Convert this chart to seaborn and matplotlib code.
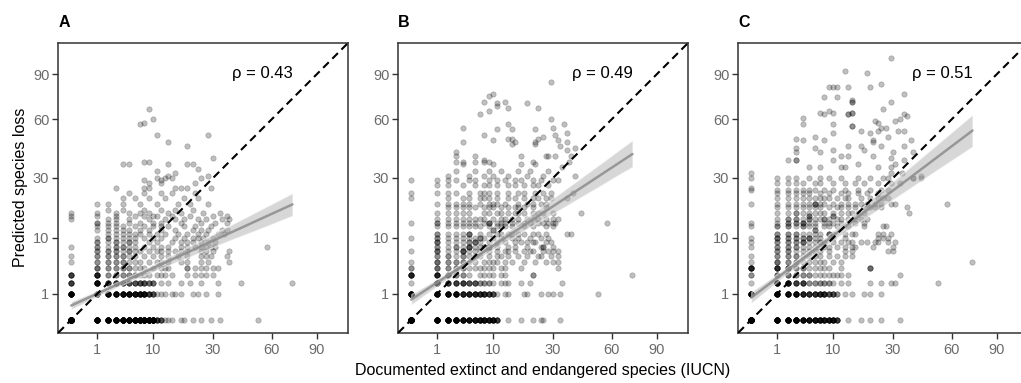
import numpy as np
import pandas as pd
import seaborn as sns
import matplotlib.pyplot as plt
from matplotlib.collections import PolyCollection

panel_labels = ["A", "B", "C"]
rho_values = [0.43, 0.49, 0.51]
tick_values = [1, 10, 30, 60, 90]

# Predicted species loss -> documented extinct/endangered counts (one entry per site)
loss_a = {
    0: [0, 0, 0, 0, 1, 1, 1, 1, 1, 2, 2, 2, 2, 2, 3, 3, 3, 3, 3, 4, 4, 4, 4, 4, 5, 5, 5, 5, 5,
        6, 6, 6, 6, 7, 7, 7, 7, 8, 8, 8, 8, 9, 9, 9, 9, 10, 10, 10, 11, 11, 12, 13, 14, 15,
        18, 19, 22, 25, 29, 33, 52],
    1: [0, 0, 0, 0, 1, 1, 1, 1, 1, 2, 2, 2, 2, 3, 3, 3, 3, 4, 4, 4, 4, 5, 5, 5, 5, 6, 6, 6,
        7, 7, 7, 8, 8, 8, 9, 9, 9, 10, 10, 11, 12, 13, 15, 16, 18, 22, 24, 27, 32],
    2: [0, 0, 1, 1, 1, 1, 2, 2, 2, 3, 3, 3, 4, 4, 5, 5, 6, 6, 7, 7, 8, 8, 9, 10, 12, 14, 18,
        21, 25, 32, 43, 73],
    3: [0, 0, 1, 1, 1, 2, 2, 3, 3, 4, 4, 5, 5, 6, 6, 7, 8, 9, 11, 12, 13, 15, 20, 23, 25, 27, 30],
    4: [1, 1, 1, 2, 2, 3, 3, 4, 4, 5, 5, 6, 7, 8, 10, 12, 13, 14, 20, 20, 23, 25, 27, 30, 32],
    5: [0, 1, 1, 2, 2, 3, 3, 4, 4, 5, 6, 7, 9, 11, 12, 14, 18, 20, 25, 28, 37],
    6: [0, 1, 1, 2, 2, 3, 3, 4, 4, 5, 6, 8, 10, 12, 14, 17, 20, 25, 27, 29, 36],
    7: [1, 1, 2, 2, 3, 3, 4, 5, 5, 6, 7, 9, 11, 12, 14, 16, 18, 20, 25, 27, 30, 37],
    8: [0, 1, 1, 2, 3, 3, 4, 4, 5, 6, 8, 10, 12, 14, 18, 20, 23, 25, 27, 29, 31, 57],
    9: [1, 1, 2, 3, 3, 4, 5, 5, 6, 9, 11, 15, 18, 20, 22, 25, 28, 31],
    10: [1, 2, 2, 3, 4, 5, 6, 8, 10, 12, 16, 19, 22, 24, 26, 30],
    11: [2, 3, 4, 5, 6, 7, 9, 11, 13, 17, 20, 24, 27, 32, 35],
    12: [1, 2, 3, 4, 5, 7, 9, 12, 16, 22, 25, 28, 34, 36],
    13: [1, 2, 3, 4, 6, 8, 10, 12, 14, 19, 23, 29],
    14: [1, 1, 2, 3, 5, 7, 10, 12, 18, 25, 31, 36],
    15: [0, 2, 3, 5, 9, 13, 16, 19, 24, 27, 34, 37],
    16: [0, 1, 3, 6, 8, 10, 11, 15, 21, 30, 36],
    17: [0, 1, 3, 5, 7, 9, 14, 18, 26, 33],
    18: [2, 4, 8, 12, 16, 22],
    20: [1, 2, 4, 7, 11, 17, 21, 28],
    22: [4, 6, 9, 13, 19, 24],
    24: [5, 8, 12, 15, 23],
    26: [3, 8, 9, 16, 18, 20, 29],
    28: [9, 12, 23],
    29: [8, 12],
    30: [11, 13, 15, 25],
    31: [14, 28],
    32: [16],
    33: [11],
    34: [24],
    36: [4, 5, 14, 20, 22],
    37: [8, 9],
    39: [30],
    45: [20],
    47: [14],
    51: [11, 28],
    57: [7],
    58: [8],
    60: [10],
    66: [9],
}

loss_b = {
    0: [0, 0, 0, 0, 1, 1, 1, 1, 1, 2, 2, 2, 2, 2, 3, 3, 3, 3, 3, 4, 4, 4, 4, 4, 5, 5, 5, 5,
        6, 6, 6, 6, 7, 7, 7, 7, 8, 8, 8, 8, 9, 9, 9, 10, 10, 10, 11, 11, 14, 18, 22, 25, 26, 33],
    1: [0, 0, 0, 0, 1, 1, 1, 1, 1, 2, 2, 2, 2, 3, 3, 3, 3, 4, 4, 4, 4, 5, 5, 5, 5, 6, 6, 6, 6,
        7, 7, 7, 8, 8, 8, 9, 9, 9, 10, 10, 11, 13, 14, 19, 20, 25, 28, 30, 33, 52],
    2: [0, 1, 1, 1, 1, 2, 2, 2, 3, 3, 3, 4, 4, 4, 5, 5, 6, 6, 7, 7, 8, 8, 9, 9, 10, 12, 13,
        14, 18, 21, 34],
    3: [0, 0, 0, 1, 1, 1, 2, 2, 2, 3, 3, 4, 4, 5, 7, 8, 9, 10, 12, 13, 22, 22, 73],
    4: [0, 0, 1, 1, 1, 2, 2, 3, 3, 4, 4, 5, 6, 7, 8, 9, 10, 12, 13, 18, 32],
    5: [0, 1, 1, 1, 2, 2, 3, 3, 4, 4, 5, 6, 8, 9, 10, 11, 13, 15, 19, 23, 27, 30, 32],
    6: [1, 1, 2, 2, 3, 4, 4, 5, 6, 7, 9, 11, 12, 14, 17, 20, 24, 25, 29, 32],
    7: [0, 1, 1, 1, 2, 3, 4, 4, 5, 6, 7, 9, 11, 13, 14, 16, 19, 21, 22, 26, 28, 30, 32],
    8: [1, 1, 2, 3, 3, 4, 5, 5, 6, 7, 9, 9, 11, 14, 16, 20, 25, 26, 26, 30],
    9: [1, 1, 1, 2, 3, 4, 5, 5, 6, 7, 9, 11, 13, 16, 18, 20, 22, 23, 27, 29],
    10: [0, 1, 1, 2, 3, 4, 5, 6, 8, 10, 12, 15, 17, 21, 25, 28],
    11: [1, 1, 2, 3, 4, 5, 7, 9, 11, 12, 14, 15, 17, 19, 22, 24, 27, 36, 38],
    13: [1, 2, 3, 4, 5, 6, 7, 9, 11, 12, 13, 15, 19, 22, 27, 30],
    14: [0, 1, 1, 2, 3, 4, 5, 6, 8, 9, 11, 12, 13, 15, 17, 19, 21, 24, 26, 28, 30, 31, 57],
    15: [1, 2, 3, 4, 5, 6, 7, 8, 10, 12, 13, 15, 17, 20, 22, 24, 27, 30, 32],
    17: [1, 2, 3, 4, 5, 8, 9, 11, 12, 14, 16, 17, 19, 22, 24, 26, 30, 43],
    19: [2, 3, 4, 5, 6, 8, 9, 10, 12, 14, 16, 17, 19, 22, 27],
    20: [1, 2, 3, 4, 5, 7, 9, 10, 11, 13, 17, 20, 22, 25, 27],
    22: [0, 2, 4, 5, 7, 8, 9, 11, 14, 16, 19, 22, 24, 27, 29, 36],
    24: [0, 1, 2, 3, 5, 7, 8, 9, 11, 14, 17, 19, 23, 26, 29, 39],
    27: [1, 2, 4, 6, 8, 9, 11, 14, 16, 19, 22, 24, 28],
    29: [0, 1, 2, 3, 5, 6, 9, 11, 13, 16, 18, 22, 25, 30, 32],
    31: [2, 5, 8, 10, 14, 20, 26, 40],
    33: [3, 6, 9, 12, 17, 21, 28],
    35: [34],
    36: [4, 10, 18, 23],
    37: [3, 4, 6, 8, 9, 22, 37],
    38: [8],
    40: [3, 6, 18, 27, 28, 31, 38],
    42: [3],
    43: [36],
    44: [40],
    45: [33],
    46: [15, 23],
    47: [4, 16, 23, 36],
    48: [10, 32],
    49: [14, 15, 24],
    50: [26],
    51: [8, 31],
    52: [36],
    54: [11, 15, 23],
    55: [4, 30],
    57: [14, 35],
    60: [29],
    63: [7],
    65: [9],
    67: [14, 24],
    68: [11],
    70: [11, 20],
    71: [8, 13],
    75: [9],
    76: [10],
    84: [29],
}

loss_c = {
    0: [0, 0, 0, 0, 1, 1, 1, 1, 1, 2, 2, 2, 2, 2, 3, 3, 3, 3, 3, 4, 4, 4, 4, 4, 5, 5, 5, 5,
        6, 6, 6, 6, 7, 7, 7, 7, 8, 8, 8, 9, 9, 9, 10, 10, 10, 11, 11, 14, 18, 21, 25, 33],
    1: [0, 0, 0, 0, 1, 1, 1, 1, 1, 2, 2, 2, 2, 3, 3, 3, 3, 4, 4, 4, 4, 5, 5, 5, 6, 6, 6,
        7, 7, 7, 8, 8, 8, 9, 9, 10, 10, 11, 11, 13, 15, 19, 21, 25],
    2: [0, 1, 1, 1, 1, 2, 2, 2, 2, 3, 3, 3, 4, 4, 4, 5, 5, 6, 6, 7, 7, 8, 8, 9, 9, 10, 12,
        14, 21, 25, 29, 31, 52],
    3: [0, 0, 1, 1, 1, 2, 2, 2, 3, 3, 4, 4, 5, 5, 6, 7, 8, 9, 10, 11, 12, 14, 33],
    4: [0, 0, 0, 1, 1, 1, 2, 2, 2, 3, 3, 4, 4, 5, 6, 7, 8, 9, 12, 21, 21, 21],
    5: [0, 1, 1, 1, 2, 2, 3, 3, 4, 5, 6, 7, 8, 10, 12, 73],
    6: [0, 1, 1, 2, 2, 3, 3, 4, 5, 6, 7, 9, 11, 13, 15],
    7: [1, 1, 2, 2, 3, 4, 5, 6, 7, 9, 13, 15, 28, 30],
    8: [0, 1, 1, 2, 2, 3, 3, 4, 5, 6, 8, 9, 11, 13, 15, 16, 22, 30],
    9: [0, 1, 1, 2, 2, 3, 3, 4, 5, 6, 8, 10, 12, 14, 15, 18, 20, 23, 24, 28, 31],
    10: [0, 1, 1, 1, 2, 2, 3, 3, 4, 4, 5, 6, 7, 10, 13, 24, 26, 28],
    11: [1, 1, 2, 2, 3, 3, 4, 5, 6, 7, 9, 10, 13, 15, 16, 24, 26, 29],
    13: [0, 1, 1, 2, 2, 3, 4, 4, 5, 6, 8, 9, 11, 14, 19, 26, 27],
    14: [0, 1, 2, 2, 3, 3, 4, 5, 6, 8, 9, 10, 12, 16, 19],
    15: [1, 2, 2, 3, 3, 4, 5, 5, 6, 7, 9, 11, 12, 14, 16, 18, 20],
    17: [1, 2, 3, 3, 4, 5, 6, 7, 8, 10, 12, 14, 15, 17, 19, 37],
    19: [1, 2, 3, 4, 5, 6, 7, 9, 11, 12, 14, 16, 19, 21, 23, 25, 36],
    20: [0, 1, 2, 3, 4, 5, 6, 7, 8, 10, 12, 14, 16, 18, 20, 23, 25, 29, 31, 57],
    22: [1, 2, 3, 4, 5, 6, 7, 8, 9, 11, 13, 14, 18, 21, 24, 26, 28],
    24: [1, 2, 3, 4, 5, 7, 9, 12, 14, 17, 20, 24],
    25: [0, 1, 2, 3, 4, 5, 6, 8, 10, 13, 17, 21, 25, 28],
    26: [0],
    28: [1, 2, 3, 4, 6, 7, 10, 13, 16, 19, 24, 29, 33],
    30: [0, 1, 2, 3, 5, 7, 9, 12, 17, 21, 26, 28, 39, 39, 43],
    31: [43],
    32: [0, 29, 34],
    35: [5, 7, 12, 13, 24, 29],
    36: [17, 31],
    38: [2, 3, 3, 10, 35],
    39: [29],
    40: [12, 14, 22],
    42: [3, 7, 30, 39],
    43: [10, 19],
    44: [3, 6],
    45: [14, 18, 25, 35],
    47: [22],
    48: [4, 8, 22, 38],
    49: [3],
    50: [6, 28],
    52: [10, 21],
    53: [18, 24, 32, 35],
    55: [25, 27],
    56: [15, 15],
    57: [4, 10],
    58: [24],
    59: [23, 31],
    60: [33],
    61: [4],
    62: [36],
    63: [8, 14, 14, 35],
    64: [7, 10, 15, 15],
    65: [9],
    66: [26],
    71: [15, 15, 29],
    72: [15],
    74: [8, 11],
    76: [35],
    81: [9, 10, 11, 14, 21],
    83: [25],
    91: [20],
    92: [13],
    102: [29],
}

# Additional sites sharing the same (documented, predicted) pair, stacked on one spot
stacked_a = {
    (0, 0): 95, (1, 0): 11, (2, 0): 11, (3, 0): 11, (4, 0): 14, (5, 0): 14, (6, 0): 14,
    (7, 0): 14, (8, 0): 14, (9, 0): 14, (10, 0): 14, (11, 0): 3, (12, 0): 3,
    (0, 1): 10, (1, 1): 6, (2, 1): 6, (3, 1): 6, (4, 1): 6, (5, 1): 6, (6, 1): 6, (7, 1): 6,
    (8, 1): 6, (9, 1): 2, (10, 1): 2,
    (0, 2): 3, (1, 2): 6, (2, 2): 2, (3, 2): 2, (4, 2): 2, (5, 2): 2, (6, 2): 2, (7, 2): 2,
    (8, 2): 2, (9, 2): 2, (10, 2): 2,
    (0, 3): 3, (1, 3): 4,
}

stacked_b = {
    (0, 0): 75, (1, 0): 11, (2, 0): 11, (3, 0): 11, (4, 0): 5, (5, 0): 5, (6, 0): 5,
    (7, 0): 5, (8, 0): 5, (9, 0): 5, (10, 0): 5, (11, 0): 3,
    (0, 1): 10, (1, 1): 6, (2, 1): 6, (3, 1): 6, (4, 1): 3, (5, 1): 3, (6, 1): 3, (7, 1): 3,
    (8, 1): 3, (9, 1): 2, (10, 1): 2,
    (0, 3): 4, (1, 2): 6, (2, 2): 2, (3, 2): 2, (4, 2): 2, (5, 2): 2, (6, 2): 2,
    (1, 3): 4, (2, 3): 2,
    (4, 7): 2, (5, 8): 2, (6, 9): 2, (7, 10): 2, (8, 8): 2, (5, 11): 2, (9, 14): 2, (10, 12): 2,
}

stacked_c = {
    (0, 0): 65, (1, 0): 11, (2, 0): 11, (3, 0): 11, (4, 0): 5, (5, 0): 5, (6, 0): 5,
    (7, 0): 5, (8, 0): 5, (9, 0): 5, (10, 0): 5, (11, 0): 3,
    (0, 1): 10, (1, 1): 6, (2, 1): 6, (3, 1): 6, (4, 1): 3, (5, 1): 3, (6, 1): 3, (7, 1): 3,
    (8, 1): 3, (9, 1): 2, (10, 1): 2,
    (0, 4): 4, (1, 2): 6, (2, 2): 4, (3, 2): 2, (4, 2): 2,
    (1, 4): 3, (2, 4): 2,
    (4, 9): 2, (5, 10): 2, (6, 12): 2, (7, 9): 2, (8, 15): 2, (9, 11): 2, (10, 16): 2,
    (5, 16): 2, (6, 20): 2, (4, 14): 2,
}


def site_table(rows, stacked):
    documented, predicted = [], []
    for loss, docs in rows.items():
        documented.extend(docs)
        predicted.extend([loss] * len(docs))
    for (doc, loss), n in stacked.items():
        documented.extend([doc] * n)
        predicted.extend([loss] * n)
    df = pd.DataFrame({"documented": documented, "predicted": predicted})
    # both axes use a square-root scale
    df["doc_sqrt"] = np.sqrt(df["documented"])
    df["pred_sqrt"] = np.sqrt(df["predicted"])
    return df


sns.set_theme(style="ticks")
plt.rcParams["font.family"] = ["Liberation Sans", "DejaVu Sans"]

W, H = 1021, 383
fig = plt.figure(figsize=(W / 100, H / 100), dpi=100)

lims = (-0.5, 10.7)
ticks = np.sqrt(tick_values)
tick_text = [str(t) for t in tick_values]

panels = zip([loss_a, loss_b, loss_c], [stacked_a, stacked_b, stacked_c],
             panel_labels, rho_values)
for i, (rows, stacked, label, rho) in enumerate(panels):
    left = 58.3 + 340 * i
    ax = fig.add_axes([left / W, (H - 332.7) / H, 290 / W, 290 / H])
    df = site_table(rows, stacked)

    sns.scatterplot(data=df, x="doc_sqrt", y="pred_sqrt", ax=ax, color="black",
                    alpha=0.25, s=15, edgecolor="black", linewidth=0.5, zorder=2)
    n_before = len(ax.collections)
    sns.regplot(data=df, x="doc_sqrt", y="pred_sqrt", ax=ax, scatter=False,
                color="#8c8c8c", truncate=True, seed=1,
                line_kws=dict(lw=1.8, alpha=0.85, zorder=4))
    for coll in ax.collections[n_before:]:
        if isinstance(coll, PolyCollection):
            coll.set_facecolor("#b0b0b0")
            coll.set_alpha(0.5)
            coll.set_zorder(3)

    ax.axline((0, 0), (1, 1), color="black", lw=1.5, ls=(0, (3.8, 2.4)), zorder=5)

    ax.set_xlim(lims)
    ax.set_ylim(lims)
    ax.set_xticks(ticks, tick_text)
    ax.set_yticks(ticks, tick_text)
    ax.set_xlabel("")
    ax.set_ylabel("")
    ax.tick_params(direction="out", length=4, width=1.0, color="#333333",
                   labelcolor="#6a6a6a", labelsize=10.5, pad=2.5,
                   bottom=True, left=True, top=False, right=False)
    ax.tick_params(axis="x", pad=3.5)
    for sp in ax.spines.values():
        sp.set_color("#333333")
        sp.set_linewidth(1.1)
        sp.set_visible(True)

    ax.text(7.4, 9.33, f"ρ = {rho:.2f}", ha="center", va="baseline",
            fontsize=12, color="black", zorder=6)
    ax.text(0.0, 1.053, label, transform=ax.transAxes, ha="left", va="baseline",
            fontsize=11.5, fontweight="bold", color="black")

fig.text(20 / W, 1 - 187.7 / H, "Predicted species loss", rotation=90,
         ha="center", va="center", fontsize=11.5, color="black")
fig.text(543 / W, 1 - 370 / H, "Documented extinct and endangered species (IUCN)",
         ha="center", va="center", fontsize=11.5, color="black")

fig.savefig("out.png", dpi=100)
